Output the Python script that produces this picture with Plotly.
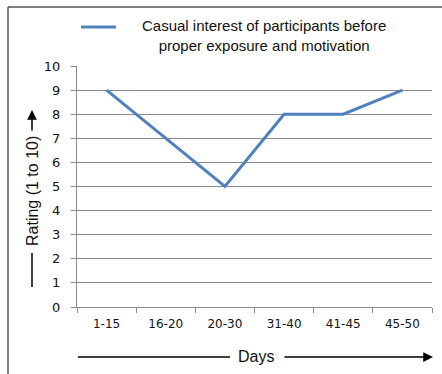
import plotly.graph_objects as go

# Rating per day range
days = ["1-15", "16-20", "20-30", "31-40", "41-45", "45-50"]
rating = [9, 7, 5, 8, 8, 9]
series_name = "Casual interest of participants before<br>proper exposure and motivation"
y_ticks = list(range(0, 11))

FIG_W, FIG_H = 442, 374
L, R, T, B = 77, 432, 66, 307  # plot area edges in pixels
PW, PH = R - L, B - T


def px(x):
    return (x - L) / PW


def py(y):
    return (B - y) / PH


BLUE = "#4F81BD"
GRID = "#8a8a8a"
TXT = "#111111"

fig = go.Figure()
fig.add_trace(go.Scatter(
    x=days, y=rating, mode="lines",
    line=dict(color=BLUE, width=3),
    name=series_name, showlegend=False,
))

shapes = [
    # frame (left and top edges)
    dict(type="line", xref="paper", yref="paper", x0=px(8), x1=px(8), y0=py(7), y1=py(380),
         line=dict(color="#555555", width=1.5)),
    dict(type="line", xref="paper", yref="paper", x0=px(8), x1=px(445), y0=py(7), y1=py(7),
         line=dict(color="#555555", width=1.5)),
    # legend sample
    dict(type="line", xref="paper", yref="paper", x0=px(81), x1=px(116), y0=py(27), y1=py(27),
         line=dict(color=BLUE, width=3)),
    # y title lead line
    dict(type="line", xref="paper", yref="paper", x0=px(32), x1=px(32), y0=py(253), y1=py(287),
         line=dict(color="black", width=1.5)),
    # x title lead line
    dict(type="line", xref="paper", yref="paper", x0=px(78), x1=px(230), y0=py(357), y1=py(357),
         line=dict(color="black", width=1.5)),
]

annotations = [
    dict(xref="paper", yref="paper", x=px(264), y=py(35), text=series_name,
         showarrow=False, align="center", xanchor="center", yanchor="middle",
         font=dict(family="Liberation Sans, Arial", size=15, color=TXT)),
    dict(xref="paper", yref="paper", x=px(32), y=py(191), text="Rating (1 to 10)",
         textangle=-90, showarrow=False, xanchor="center", yanchor="middle",
         font=dict(family="Liberation Sans, Arial", size=16, color=TXT)),
    dict(xref="paper", yref="paper", x=px(256), y=py(356), text="Days",
         showarrow=False, xanchor="center", yanchor="middle",
         font=dict(family="Liberation Sans, Arial", size=16, color=TXT)),
    # arrows
    dict(xref="paper", yref="paper", x=px(32), y=py(110), ax=0, ay=22, axref="pixel", ayref="pixel",
         text="", showarrow=True, arrowhead=2, arrowsize=1.3, arrowwidth=1.5, arrowcolor="black"),
    dict(xref="paper", yref="paper", x=px(433), y=py(357), ax=-150, ay=0, axref="pixel", ayref="pixel",
         text="", showarrow=True, arrowhead=2, arrowsize=1.3, arrowwidth=1.5, arrowcolor="black"),
]

fig.update_layout(
    width=FIG_W, height=FIG_H,
    margin=dict(l=L, r=FIG_W - R, t=T, b=FIG_H - B),
    paper_bgcolor="white", plot_bgcolor="white",
    shapes=shapes, annotations=annotations,
    xaxis=dict(
        type="category", categoryorder="array", categoryarray=days,
        range=[-0.5, len(days) - 0.5],
        showline=True, linecolor=GRID, linewidth=1,
        ticks="outside", tickson="boundaries", ticklen=5, tickcolor=GRID,
        showgrid=False, ticklabelstandoff=6,
        tickfont=dict(family="DejaVu Sans, Verdana", size=12, color=TXT),
    ),
    yaxis=dict(
        range=[0, 10], tickvals=y_ticks,
        showline=True, linecolor=GRID, linewidth=1,
        ticks="outside", ticklen=5, tickcolor=GRID,
        showgrid=True, gridcolor=GRID, gridwidth=1, zeroline=False,
        ticklabelstandoff=8,
        tickfont=dict(family="DejaVu Sans, Verdana", size=13, color=TXT),
    ),
)

fig.write_html("out.html")
